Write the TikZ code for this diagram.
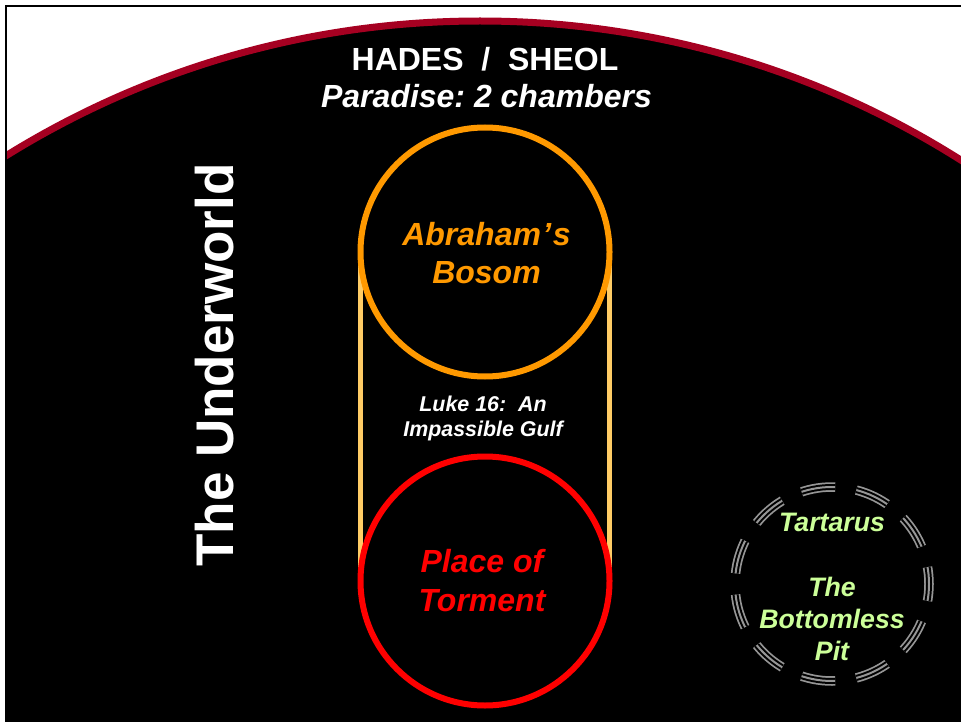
\documentclass[tikz,border=0pt]{standalone}
\usepackage{fontspec}
\setmainfont{Liberation Sans}
\frenchspacing
\definecolor{archred}{RGB}{165,0,33}
\definecolor{abrorange}{RGB}{255,153,0}
\definecolor{gulfline}{RGB}{255,204,102}
\definecolor{pitgreen}{RGB}{204,255,153}
\definecolor{pitgray}{RGB}{150,150,150}
\begin{document}
\begin{tikzpicture}[x=1pt,y=-1pt,
  txt/.style={inner sep=0pt, outer sep=0pt, align=center, anchor=base},
  bigtxt/.style={txt, font=\fontsize{32pt}{37.5pt}\selectfont\bfseries},
  ring/.style={circle, minimum size=249pt, inner sep=0pt, outer sep=0pt},
  ringline/.style={line width=6pt},
  gulf/.style={draw=gulfline, line width=4.5pt},
  pitdash/.style={dash pattern=on 34pt off 21.41pt, dash phase=17pt}]
\useasboundingbox (0,0) rectangle (961,722);
\fill[white] (0,0) rectangle (961,722);
% frame and arch
\begin{scope}
  \clip (6,6) rectangle (961,722);
  \fill[black] (6,200) rectangle (961,722);
  \filldraw[fill=black, draw=archred, line width=7pt] (480,921) circle[radius=900];
\end{scope}
\draw[black, line width=2pt] (6,722) -- (6,6) -- (961,6);
% titles
\node[bigtxt, text=white] (hades) at (485,71) {HADES~~/~~SHEOL};
\node[bigtxt, text=white, font=\fontsize{32pt}{37.5pt}\selectfont\bfseries\itshape] (paradise) at (486.5,108) {Paradise: 2 chambers};
\node[txt, text=white, rotate=90, font=\fontsize{53pt}{60pt}\selectfont\bfseries] (under) at (233,365) {The Underworld};
% chambers
\node[ring] (abr) at (485,252) {};
\node[ring] (tor) at (485,581) {};
\draw[gulf] (abr.west) -- (tor.west);
\draw[gulf] (abr.east) -- (tor.east);
\draw[ringline, abrorange] (abr.center) circle[radius=124.5];
\draw[ringline, red] (tor.center) circle[radius=124.5];
\node[bigtxt, text=abrorange, font=\fontsize{32pt}{37.5pt}\selectfont\bfseries\itshape] (abrtxt) at (486.5,283) {Abraham\kern1.5pt’\kern1.5pt s\\Bosom};
\node[bigtxt, text=red, font=\fontsize{32pt}{39pt}\selectfont\bfseries\itshape] (tortxt) at (482,611.7) {Place of\\Torment};
\node[txt, text=white, font=\fontsize{21.4pt}{25pt}\selectfont\bfseries\itshape] (luke) at (483,436.7) {Luke 16:~~An\\Impassible Gulf};
% pit
\node[circle, minimum size=194pt, inner sep=0pt, draw=pitgray, line width=9.5pt, pitdash,
      postaction={draw=black, line width=6pt, pitdash},
      postaction={draw=pitgray, line width=2pt, pitdash}] (pit) at (832,584) {};
\node[txt, text=pitgreen, font=\fontsize{26.7pt}{32.2pt}\selectfont\bfseries\itshape] (pittxt) at (832,660.7) {Tartarus\\[32.2pt]The\\Bottomless\\Pit};
\end{tikzpicture}
\end{document}
